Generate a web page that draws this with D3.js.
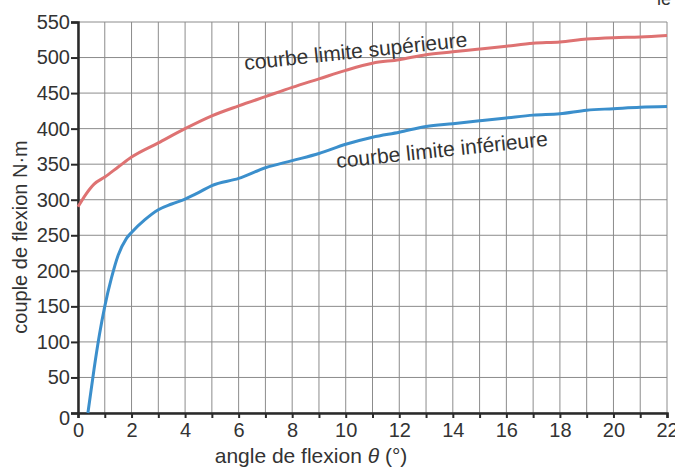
<!DOCTYPE html>
<html>
<head>
<meta charset="utf-8">
<script src="https://cdn.jsdelivr.net/npm/d3@7"></script>
<style>
  body { margin: 0; background: #fff; }
  svg text { font-family: "Liberation Sans", Arial, sans-serif; fill: #333; }
</style>
</head>
<body>
<svg id="chart" width="675" height="468"></svg>
<script>
// ─── Data ──────────────────────────────────────────────────────────────────
const upperAngle  = [0, 0.3, 0.6, 1, 1.5, 2, 3, 4, 5, 6, 7, 8, 9, 10, 11, 12, 13, 14, 15, 16, 17, 18, 19, 20, 21, 22];
const upperTorque = [290, 308, 322, 332, 346, 360, 380, 400, 418, 432, 445, 458, 470, 482, 492, 497, 504, 508, 512, 516, 520, 522, 526, 528, 529, 531];

const lowerAngle  = [0.37, 0.6, 0.8, 1.0, 1.25, 1.5, 1.8, 2, 2.5, 3, 3.5, 4, 4.5, 5, 6, 7, 8, 9, 10, 11, 12, 13, 14, 15, 16, 17, 18, 19, 20, 21, 22];
const lowerTorque = [0, 62, 110, 150, 190, 222, 245, 254, 272, 286, 294, 301, 310, 320, 330, 345, 355, 365, 378, 388, 395, 403, 407, 411, 415, 419, 421, 426, 428, 430, 431];

const yTicks = [0, 50, 100, 150, 200, 250, 300, 350, 400, 450, 500, 550];
const xTicks = d3.range(0, 23, 1);

// ─── Layout ────────────────────────────────────────────────────────────────
const margin = { top: 22, right: 8, bottom: 55, left: 78 };
const W = 675 - margin.left - margin.right;
const H = 468 - margin.top - margin.bottom;

const svg = d3.select("#chart");
const g = svg.append("g").attr("transform", `translate(${margin.left},${margin.top})`);

const x = d3.scaleLinear().domain([0, 22]).range([0, W]);
const y = d3.scaleLinear().domain([0, 550]).range([H, 0]);

// ─── Grid ──────────────────────────────────────────────────────────────────
g.append("g").selectAll("line").data(xTicks).join("line")
  .attr("x1", d => x(d)).attr("x2", d => x(d))
  .attr("y1", 0).attr("y2", H)
  .attr("stroke", "#8c8c8c").attr("stroke-width", 1);

g.append("g").selectAll("line").data(yTicks).join("line")
  .attr("x1", 0).attr("x2", W)
  .attr("y1", d => y(d)).attr("y2", d => y(d))
  .attr("stroke", "#8c8c8c").attr("stroke-width", 1);

// ─── Axes ──────────────────────────────────────────────────────────────────
const xAxis = g.append("g")
  .attr("transform", `translate(0,${H})`)
  .call(d3.axisBottom(x).tickValues(xTicks).tickSize(5).tickPadding(5)
    .tickFormat(d => d % 2 === 0 ? d : ""));

const yAxis = g.append("g")
  .call(d3.axisLeft(y).tickValues(yTicks).tickSize(7).tickPadding(1));

[xAxis, yAxis].forEach(a => {
  a.select(".domain").attr("stroke", "#2a2a2a").attr("stroke-width", 2.5);
  a.selectAll(".tick line").attr("stroke", "#2a2a2a").attr("stroke-width", 2);
  a.selectAll("text").attr("font-size", "20px").attr("fill", "#333");
});
yAxis.selectAll(".tick text").attr("dy", d => d === 0 ? "0.55em" : "0.32em");

// ─── Curves ────────────────────────────────────────────────────────────────
const line = d3.line()
  .x(d => x(d[0])).y(d => y(d[1]))
  .curve(d3.curveMonotoneX);

g.append("path")
  .datum(d3.zip(upperAngle, upperTorque))
  .attr("fill", "none").attr("stroke", "#de7272").attr("stroke-width", 3)
  .attr("d", line);

g.append("path")
  .datum(d3.zip(lowerAngle, lowerTorque))
  .attr("fill", "none").attr("stroke", "#3b8fcc").attr("stroke-width", 3)
  .attr("d", line);

// ─── Curve labels ─────────────────────────────────────────────────────────
svg.append("text")
  .attr("transform", "translate(245,70) rotate(-6)")
  .attr("font-size", "21px")
  .text("courbe limite supérieure");

svg.append("text")
  .attr("transform", "translate(337,168) rotate(-6)")
  .attr("font-size", "21px")
  .text("courbe limite inférieure");

// ─── Axis titles ───────────────────────────────────────────────────────────
const xTitle = svg.append("text")
  .attr("x", 311).attr("y", 463)
  .attr("text-anchor", "middle")
  .attr("font-size", "21px");
xTitle.append("tspan").text("angle de flexion ");
xTitle.append("tspan").attr("font-style", "italic").text("θ");
xTitle.append("tspan").text(" (°)");

svg.append("text")
  .attr("transform", "translate(27,237) rotate(-90)")
  .attr("text-anchor", "middle")
  .attr("font-size", "20px")
  .text("couple de flexion N·m");

// cropped text at the top right corner
svg.append("text")
  .attr("x", 657).attr("y", 5)
  .attr("font-size", "18px")
  .text("le");
</script>
</body>
</html>
